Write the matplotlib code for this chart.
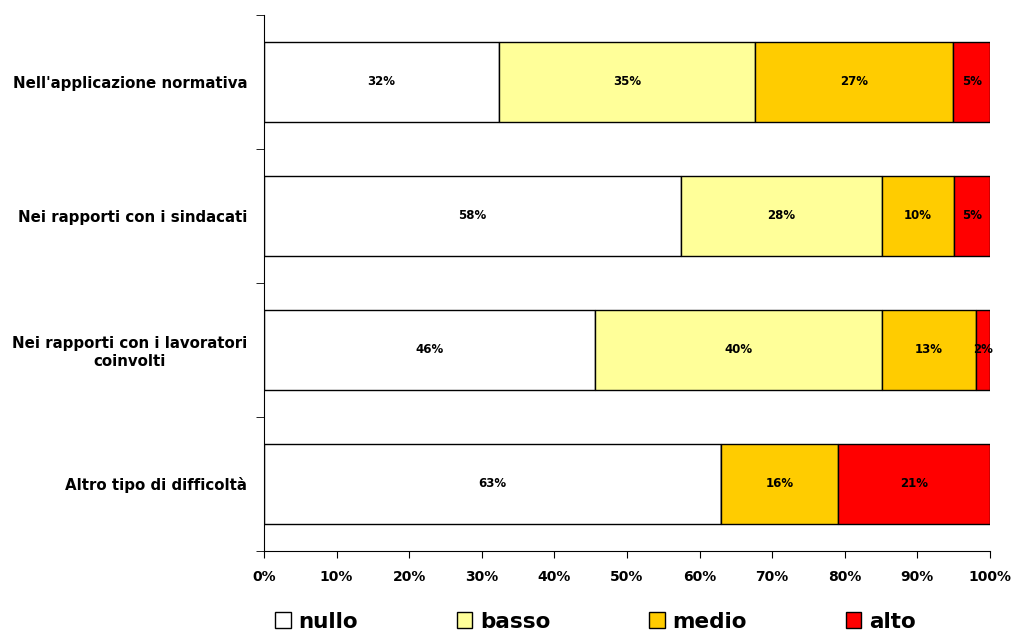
import matplotlib.pyplot as plt
from matplotlib.patches import Patch
from matplotlib.ticker import PercentFormatter

# Livello di difficoltà per ambito (percentuali riportate sulle barre)
categorie = [
    "Nell'applicazione normativa",
    "Nei rapporti con i sindacati",
    "Nei rapporti con i lavoratori\ncoinvolti",
    "Altro tipo di difficoltà",
]
livelli = ['nullo', 'basso', 'medio', 'alto']
nullo = [32, 58, 46, 63]
basso = [35, 28, 40, 0]
medio = [27, 10, 13, 16]
alto = [5, 5, 2, 21]
colori = ['#FFFFFF', '#FFFF99', '#FFCC00', '#FF0000']

serie = [nullo, basso, medio, alto]
totali = [sum(v) for v in zip(*serie)]

fig = plt.figure(figsize=(10.11, 6.32), dpi=100)
ax = fig.add_axes([0.2611, 0.1282, 0.7181, 0.8481])

y = list(range(len(categorie)))
sinistra = [0.0] * len(categorie)
for nome, valori, colore in zip(livelli, serie, colori):
    larghezze = [v / t * 100 for v, t in zip(valori, totali)]
    ax.barh(y, larghezze, left=sinistra, height=0.6, color=colore,
            edgecolor='black', linewidth=1, label=nome)
    for yi, l, w, v in zip(y, sinistra, larghezze, valori):
        if v > 0:
            ax.text(l + w / 2, yi, f'{v}%', ha='center', va='center',
                    fontsize=8.5, fontweight='bold')
    sinistra = [s + w for s, w in zip(sinistra, larghezze)]

ax.set_xlim(0, 100)
ax.set_ylim(3.5, -0.5)
ax.set_yticks(y)
ax.set_yticklabels(categorie, fontsize=10.8, fontweight='bold',
                   multialignment='center')
ax.set_yticks([-0.5, 0.5, 1.5, 2.5, 3.5], minor=True)
ax.tick_params(axis='y', which='major', length=0, pad=12)
ax.tick_params(axis='y', which='minor', length=6, direction='out')
ax.set_xticks(range(0, 101, 10))
ax.xaxis.set_major_formatter(PercentFormatter(decimals=0))
ax.tick_params(axis='x', length=5, direction='out', pad=9, labelsize=10)
for t in ax.get_xticklabels():
    t.set_fontweight('bold')

ax.spines['top'].set_visible(False)
ax.spines['right'].set_visible(False)

maniglie = [Patch(facecolor=c, edgecolor='black', linewidth=1) for c in colori]
fig.legend(maniglie, livelli, loc='lower left', bbox_to_anchor=(0.253, -0.03),
           ncol=4, frameon=False, handlelength=0.72, handleheight=0.72,
           handletextpad=0.35, columnspacing=4.6,
           prop={'size': 15.5, 'weight': 'bold'})

fig.savefig('out.png', dpi=100)
